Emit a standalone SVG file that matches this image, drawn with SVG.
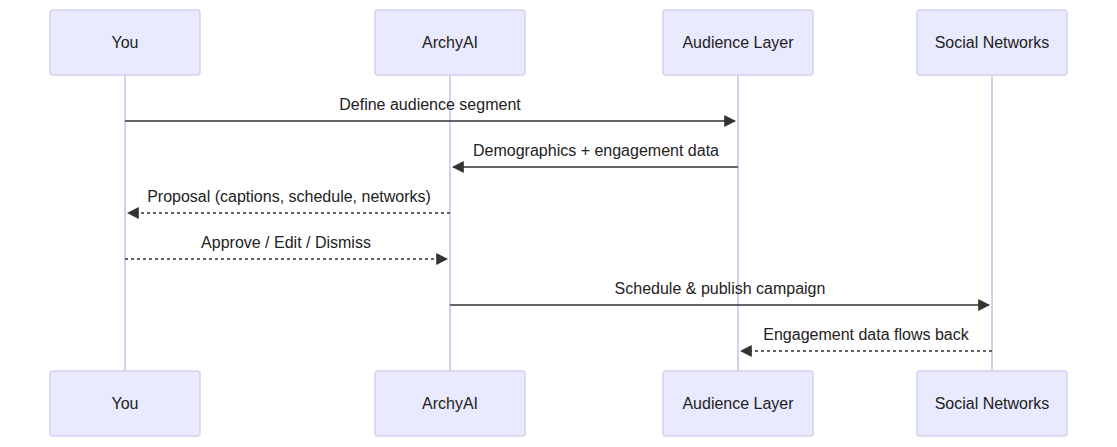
<svg xmlns="http://www.w3.org/2000/svg" width="1117" height="447" viewBox="0 0 1117 447">
<style>
.box{fill:#eaeaff;stroke:#d3d0f0;stroke-width:1.5}
.life{stroke:#d3d0f0;stroke-width:2}
.t{font-family:"Liberation Sans",Arial,sans-serif;font-size:16px;fill:#222;text-anchor:middle}
.m{stroke:#333;stroke-width:1.5;fill:none}
.d{stroke-dasharray:3,3}
</style>
<defs><marker id="a" viewBox="0 0 10 10" refX="9" refY="5" markerWidth="8" markerHeight="8" orient="auto-start-reverse"><path d="M0,0L10,5L0,10z" fill="#333"/></marker></defs>
<rect width="1117" height="447" fill="#fff"/>
<g id="lifelines">
<line class="life" x1="125" y1="75" x2="125" y2="371"/>
<line class="life" x1="450" y1="75" x2="450" y2="371"/>
<line class="life" x1="738" y1="75" x2="738" y2="371"/>
<line class="life" x1="992" y1="75" x2="992" y2="371"/>
</g>
<g id="you"><rect class="box" x="50" y="10" width="150" height="65" rx="3"/><text class="t" x="125" y="48">You</text>
<rect class="box" x="50" y="371" width="150" height="65" rx="3"/><text class="t" x="125" y="409">You</text></g>
<g id="archyai"><rect class="box" x="375" y="10" width="150" height="65" rx="3"/><text class="t" x="450" y="48">ArchyAI</text>
<rect class="box" x="375" y="371" width="150" height="65" rx="3"/><text class="t" x="450" y="409">ArchyAI</text></g>
<g id="audience"><rect class="box" x="663" y="10" width="150" height="65" rx="3"/><text class="t" x="738" y="48">Audience Layer</text>
<rect class="box" x="663" y="371" width="150" height="65" rx="3"/><text class="t" x="738" y="409">Audience Layer</text></g>
<g id="social"><rect class="box" x="917" y="10" width="150" height="65" rx="3"/><text class="t" x="992" y="48">Social Networks</text>
<rect class="box" x="917" y="371" width="150" height="65" rx="3"/><text class="t" x="992" y="409">Social Networks</text></g>
<g id="connectors">
<line class="m" x1="125" y1="121" x2="735" y2="121" marker-end="url(#a)"/><text class="t" x="430" y="110">Define audience segment</text>
<line class="m" x1="738" y1="167" x2="453" y2="167" marker-end="url(#a)"/><text class="t" x="596" y="156">Demographics + engagement data</text>
<line class="m d" x1="450" y1="213" x2="128" y2="213" marker-end="url(#a)"/><text class="t" x="289" y="202">Proposal (captions, schedule, networks)</text>
<line class="m d" x1="125" y1="259" x2="447" y2="259" marker-end="url(#a)"/><text class="t" x="286" y="248">Approve / Edit / Dismiss</text>
<line class="m" x1="450" y1="305" x2="989" y2="305" marker-end="url(#a)"/><text class="t" x="720" y="294">Schedule &amp; publish campaign</text>
<line class="m d" x1="992" y1="351" x2="741" y2="351" marker-end="url(#a)"/><text class="t" x="866" y="340">Engagement data flows back</text>
</g>
</svg>
